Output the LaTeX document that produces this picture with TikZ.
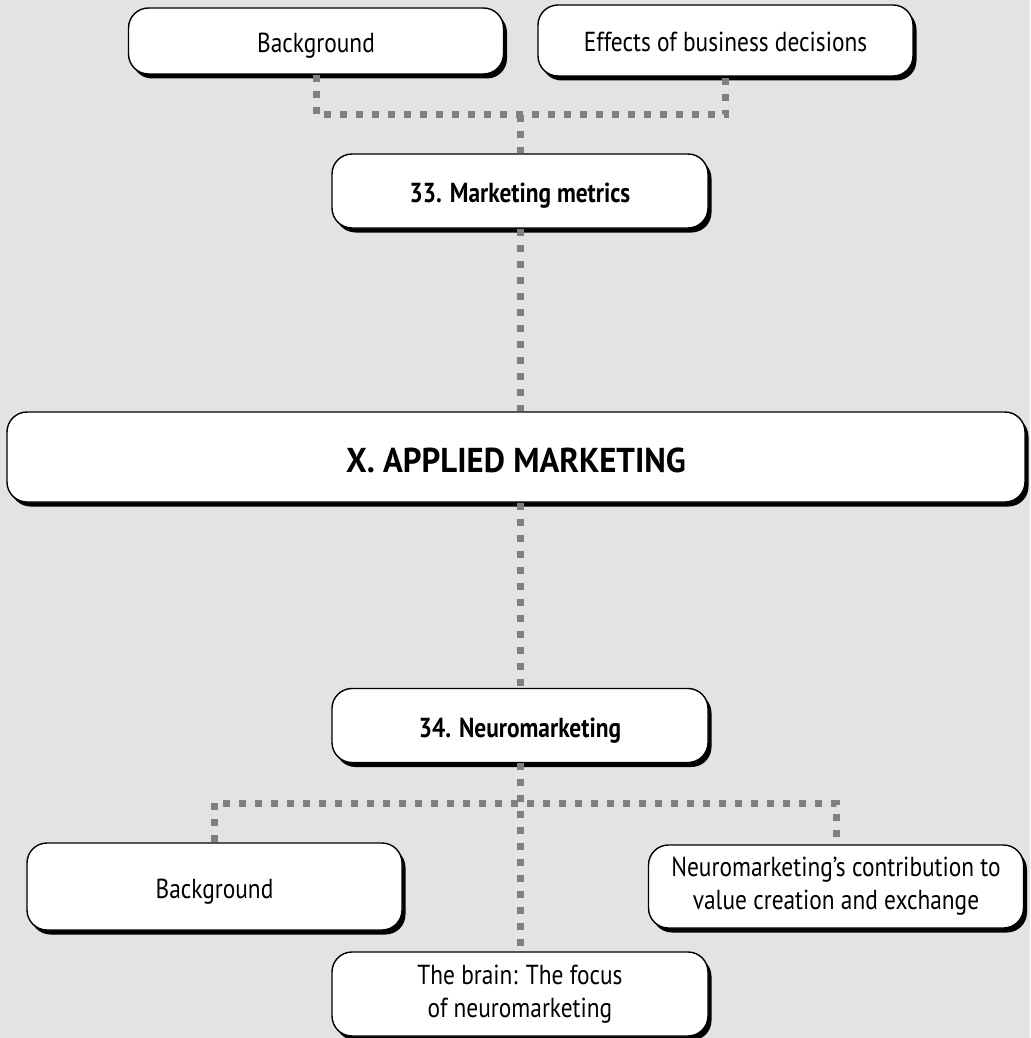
\documentclass[tikz,border=0pt]{standalone}
\usepackage{fontspec}
\setmainfont[FakeStretch=0.85]{PT Sans}
\newfontfamily\headfont[FakeStretch=0.95]{PT Sans}
\usetikzlibrary{shadows}
\definecolor{pagebg}{HTML}{E3E3E3}
\definecolor{dotgrey}{HTML}{808080}
\tikzset{
  x=1pt, y=-1pt,
  box/.style={draw=black, line width=1.4pt, fill=white, rounded corners=20pt,
    align=center, inner sep=0pt, font=\fontsize{27.5}{33}\selectfont,
    general shadow={fill=black, shadow xshift=3.5pt, shadow yshift=-4.5pt}},
  oneline/.style={text height=23pt, text depth=0pt},
  leaf/.style={box, minimum width=375pt},
  topic/.style={box, oneline, minimum width=376pt, minimum height=74pt,
    font=\fontsize{27.5}{33}\selectfont\bfseries},
  dots/.style={draw=dotgrey, line width=7pt, dash pattern=on 7pt off 9pt}
}
\begin{document}
\begin{tikzpicture}
\fill[pagebg] (0,0) rectangle (1030,1038);
\useasboundingbox (0,0) rectangle (1030,1038);

% upper branch
\node[leaf, oneline, minimum height=66pt] (bgA) at (316,41) {Background};
\node[leaf, oneline, minimum height=71pt] (eff) at (725.5,40.5) {Effects of business decisions};
\node[topic] (mm) at (520,191) {33. Marketing metrics};

% central heading
\node[box, minimum width=1018pt, minimum height=90pt, text height=31pt, text depth=0pt,
  font=\headfont\fontsize{34.5}{40}\selectfont\bfseries] (main) at (516,457) {X. APPLIED MARKETING};

% lower branch
\node[topic] (nm) at (520,725.5) {34. Neuromarketing};
\node[leaf, oneline, minimum height=87pt] (bgB) at (214.5,886.5) {Background};
\node[leaf, minimum height=83pt] (contrib) at (836,886.5)
  {Neuromarketing’s contribution to\\value creation and exchange};
\node[leaf, minimum width=376pt, minimum height=84pt] (brain) at (520,994)
  {The brain: The focus\\of neuromarketing};

% connectors
\coordinate (tj) at (520,115);
\coordinate (bj) at (520,803);
\draw[dots] (bgA.south) |- (tj) -| (eff.south);
\draw[dots] (tj) -- (mm.north);
\draw[dots] (mm.south) -- (main.north -| mm.south);
\draw[dots] (main.south -| nm.north) -- (nm.north);
\draw[dots] (nm.south) -- (brain.north);
\draw[dots] (bgB.north) |- (bj) -| (contrib.north);
\end{tikzpicture}
\end{document}
